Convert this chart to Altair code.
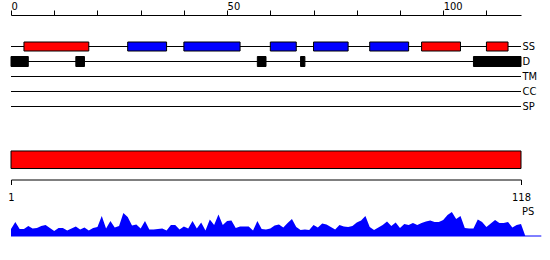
import altair as alt
import pandas as pd

# ---- data ----
tracks = ["SS", "D", "TM", "CC", "SP"]
seq_len = 118
top_ticks = [0, 10, 20, 30, 40, 50, 60, 70, 80, 90, 100, 110]

ss_type = ["H", "E", "E", "E", "E", "E", "H", "H"]
ss_start = [3, 27, 40, 60, 70, 83, 95, 110]
ss_end = [18, 36, 53, 66, 78, 92, 104, 115]

dis_start = [0, 15, 57, 67, 107]
dis_end = [4, 17, 59, 68, 118]

dom_start = [1]
dom_end = [118]
bottom_ticks = [1, 118]

ps_values = [7, 14, 7, 7, 10, 7.5, 8, 10, 11, 8, 5, 8, 8, 5.5, 7.5, 9.5, 6.5, 8.5, 5.5, 8,
             9, 20, 7.5, 15, 8.5, 10, 23, 19, 10.5, 11.5, 7.5, 15, 6.5, 6.5, 7, 7.5, 5.5, 11, 11, 6.5,
             9.5, 7.5, 15, 7.5, 13.5, 5.5, 16.5, 11, 21.5, 11, 15, 15.5, 8, 9.5, 9.5, 9.5, 5.5, 15, 7, 6.5,
             7.5, 10.5, 11.5, 8.5, 13, 17, 9, 6, 6.5, 6, 11, 8.5, 12.5, 11.5, 9, 6.5, 11, 9.5, 9, 10,
             13.5, 15.5, 20, 9, 6, 8.5, 11, 14.5, 10, 13.5, 8, 12, 11, 13, 11, 13, 14.5, 15.5, 14, 14,
             16, 21, 24, 17, 20, 8, 7.5, 7.5, 16.5, 14, 9, 12.5, 16, 13, 13, 14, 8.5, 11, 12, 0]
ps_pos = list(range(len(ps_values)))

FONT = "DejaVu Sans Condensed"
W = 510

# ---- tables ----
lines_df = pd.DataFrame({"track": tracks, "start": [0] * len(tracks), "end": [seq_len] * len(tracks)})
ss_df = pd.DataFrame({"track": "SS", "type": ss_type, "start": ss_start, "end": ss_end})
dis_df = pd.DataFrame({"track": "D", "type": "D", "start": dis_start, "end": dis_end})
dom_df = pd.DataFrame({"start": dom_start, "end": dom_end})
ps_df = pd.DataFrame({"pos": ps_pos, "ps": ps_values})

xs_top = alt.Scale(domain=[0, seq_len], nice=False, zero=False)
ys = alt.Scale(type="point", domain=tracks, range=[31.5, 91.5], padding=0)
col = alt.Scale(domain=["H", "E", "D"], range=["#ff0000", "#0000ff", "#000000"])

top_axis = alt.Axis(orient="top", values=top_ticks, labelExpr="datum.value % 50 == 0 ? datum.label : ''",
                    labelAlign="left", labelBaseline="alphabetic", labelPadding=0.2, tickSize=5,
                    domainColor="black", tickColor="black", labelColor="black", labelFont=FONT,
                    labelFontSize=11, grid=False, title=None, labelFlush=False, labelOverlap=False)
right_axis = alt.Axis(orient="right", domain=False, ticks=False, labelPadding=1, labelFont=FONT,
                      labelFontSize=11, labelColor="black", title=None, grid=False)

lines = alt.Chart(lines_df).mark_rule(color="black", strokeWidth=1).encode(
    x=alt.X("start:Q", scale=xs_top, axis=top_axis),
    x2="end:Q",
    y=alt.Y("track:N", scale=ys, axis=right_axis, sort=tracks),
)
ss_boxes = alt.Chart(ss_df).mark_bar(height=9, stroke="black", strokeWidth=1).encode(
    x="start:Q", x2="end:Q", y=alt.Y("track:N", scale=ys, sort=tracks),
    color=alt.Color("type:N", scale=col, legend=None),
)
dis_boxes = alt.Chart(dis_df).mark_bar(height=10, stroke="black", strokeWidth=1).encode(
    x="start:Q", x2="end:Q", y=alt.Y("track:N", scale=ys, sort=tracks),
    color=alt.Color("type:N", scale=col, legend=None),
)
panel_a = alt.layer(lines, ss_boxes, dis_boxes).properties(width=W, height=120)

bottom_axis = alt.Axis(orient="bottom", values=bottom_ticks, offset=10, tickSize=5, labelPadding=6.5,
                       domainColor="black", tickColor="black", labelColor="black", labelFont=FONT,
                       labelFontSize=11, grid=False, title=None, labelFlush=False, labelAlign="center")
panel_b = alt.Chart(dom_df).mark_bar(color="#ff0000", stroke="black", strokeWidth=1).encode(
    x=alt.X("start:Q", scale=alt.Scale(domain=[1, seq_len], nice=False, zero=False), axis=bottom_axis),
    x2="end:Q",
).properties(width=W, height=19.5)

ys_ps = alt.Scale(domain=[0, 30], nice=False)
area = alt.Chart(ps_df).mark_area(color="#0000ff", opacity=1, interpolate="linear", clip=False).encode(
    x=alt.X("pos:Q", scale=xs_top, axis=None),
    y=alt.Y("ps:Q", scale=ys_ps, axis=None),
)
base = alt.Chart(pd.DataFrame({"a": [0], "b": [122.7], "v": [0]})).mark_rule(color="#0000ff", strokeWidth=1).encode(
    x=alt.X("a:Q", scale=xs_top, axis=None), x2="b:Q", y=alt.Y("v:Q", scale=ys_ps, axis=None)
)
ps_label = alt.Chart(pd.DataFrame({"x": [seq_len], "y": [24.5], "t": ["PS"]})).mark_text(
    align="left", baseline="middle", dx=1, font=FONT, fontSize=11, color="black"
).encode(x=alt.X("x:Q", scale=xs_top, axis=None), y=alt.Y("y:Q", scale=ys_ps, axis=None), text="t:N")
panel_c = alt.layer(base, area, ps_label).properties(width=W, height=30)

chart = alt.vconcat(
    panel_a,
    alt.vconcat(panel_b, panel_c, spacing=3),
    spacing=15,
).properties(
    padding={"left": 7, "top": 0, "right": 5, "bottom": 5}, background="white"
).configure_view(stroke="transparent", strokeWidth=0)

chart.save("out.html", embed_options={"renderer": "svg", "actions": False})
